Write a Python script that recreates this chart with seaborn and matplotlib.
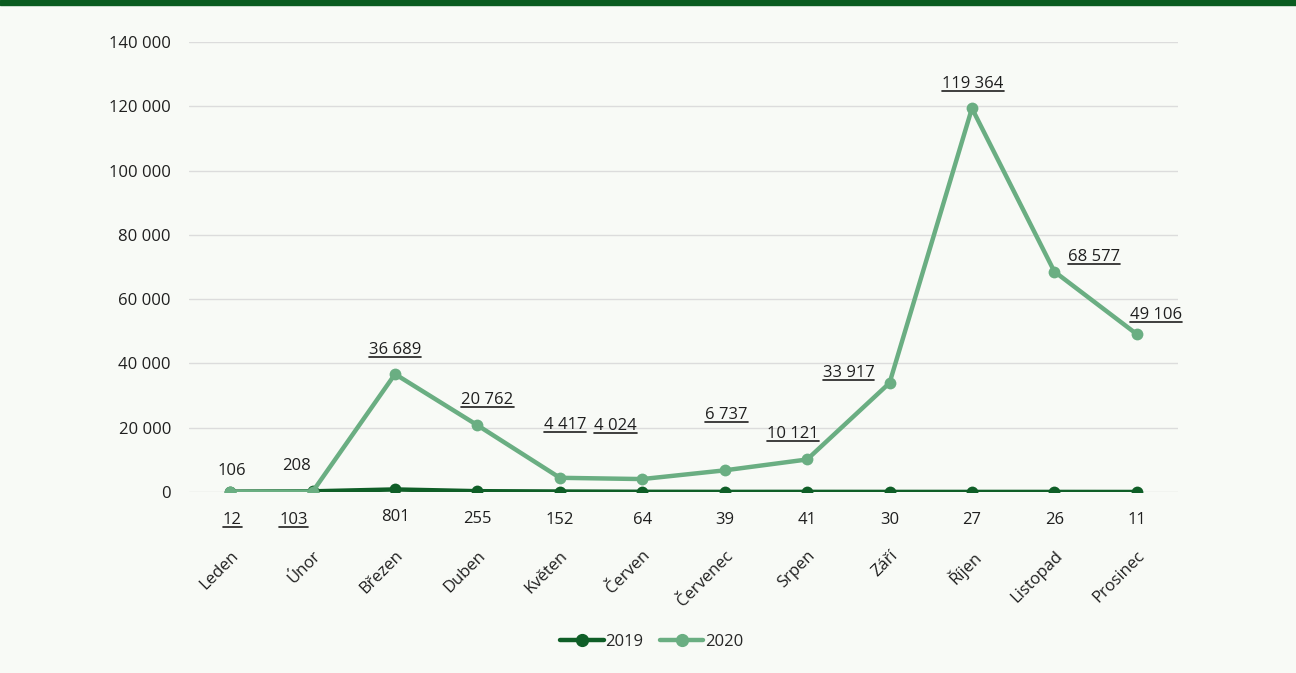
import pandas as pd
import matplotlib.pyplot as plt
import seaborn as sns
from matplotlib.lines import Line2D
from matplotlib.patches import Rectangle

# data
months = ["Leden", "Únor", "Březen", "Duben", "Květen", "Červen",
          "Červenec", "Srpen", "Září", "Říjen", "Listopad", "Prosinec"]
values_2019 = [106, 208, 801, 255, 152, 64, 39, 41, 30, 27, 26, 11]
values_2020 = [12, 103, 36689, 20762, 4417, 4024, 6737, 10121, 33917, 119364, 68577, 49106]
yticks = [0, 20000, 40000, 60000, 80000, 100000, 120000, 140000]

# posun popisků v pixelech (x, y)
off_2019 = [(2, 21), (-16, 25), (0, -28), (0, -28), (0, -28), (0, -28),
            (0, -28), (0, -28), (0, -28), (0, -28), (0, -28), (0, -28)]
off_2020 = [(2, -28), (-19, -28), (0, 24), (10, 25), (5, 53), (-27, 53),
            (2, 55), (-14, 25), (-41, 10), (1, 24), (40, 15), (19, 19)]

BG = "#f8faf6"
DARK = "#0f5e27"
LIGHT = "#6aae82"
TXT = "#1f1f1f"
FS = 12

df = pd.DataFrame({
    "Měsíc": months * 2,
    "Počet": values_2019 + values_2020,
    "Rok": ["2019"] * len(months) + ["2020"] * len(months),
})

sns.set_theme(style="white")
plt.rcParams["font.family"] = ["Open Sans", "DejaVu Sans"]

fig = plt.figure(figsize=(12.96, 6.73), dpi=100, facecolor=BG)
ax = fig.add_axes([189 / 1296, 1 - 492 / 673, 989 / 1296, 450 / 673])
ax.set_facecolor(BG)

sns.lineplot(data=df, x="Měsíc", y="Počet", hue="Rok", palette=[DARK, LIGHT],
             marker="o", markersize=8.5, markeredgewidth=0, linewidth=3.2,
             sort=False, ax=ax, legend=False)
for z, ln in enumerate(ax.lines):
    ln.set_zorder(3 + z)

ax.set_xlim(-0.5, 11.5)
ax.set_ylim(0, 140000)
ax.set_yticks(yticks)
ax.set_yticklabels([f"{v:,}".replace(",", " ") for v in yticks], fontsize=FS, color=TXT)
ax.set_xticks(range(len(months)))
ax.set_xticklabels(months, rotation=45, ha="right", rotation_mode="anchor",
                   fontsize=FS, color=TXT)
ax.tick_params(axis="x", length=0, pad=40)
ax.tick_params(axis="y", length=0, pad=13)
ax.yaxis.grid(True, color="#dcdcdc", linewidth=1)
ax.set_axisbelow(True)
for s in ax.spines.values():
    s.set_visible(False)
ax.set_xlabel("")
ax.set_ylabel("")

fmt = lambda v: f"{v:,}".replace(",", " ")
underlined = []
for i in range(len(months)):
    dx, dy = off_2019[i]
    ax.annotate(fmt(values_2019[i]), (i, values_2019[i]), xytext=(dx, dy),
                textcoords="offset pixels", ha="center", va="center",
                fontsize=FS, color=TXT)
    dx, dy = off_2020[i]
    t = ax.annotate(fmt(values_2020[i]), (i, values_2020[i]), xytext=(dx, dy),
                    textcoords="offset pixels", ha="center", va="center",
                    fontsize=FS, color=TXT)
    underlined.append(t)

# legenda
handles = [Line2D([], [], color=DARK, lw=3.2, marker="o", markersize=8.5),
           Line2D([], [], color=LIGHT, lw=3.2, marker="o", markersize=8.5)]
fig.legend(handles, ["2019", "2020"], loc="center", bbox_to_anchor=(0.503, 1 - 642 / 673),
           ncol=2, frameon=False, fontsize=FS, handlelength=2.6, handletextpad=0.1,
           columnspacing=1.0)

# horní pruh
fig.patches.append(Rectangle((0, 1 - 5 / 673), 1, 5 / 673, transform=fig.transFigure,
                             color="#0b5c20", zorder=10))

# podtržení popisků 2020
fig.canvas.draw()
inv = fig.transFigure.inverted()
for t in underlined:
    bb = t.get_window_extent()
    (x0, y0), (x1, _) = inv.transform([(bb.x0, bb.y0 + 1), (bb.x1, bb.y0 + 1)])
    fig.add_artist(Line2D([x0, x1], [y0, y0], color=TXT, lw=1.2,
                          transform=fig.transFigure))

fig.savefig("out.png", dpi=100, facecolor=BG)
